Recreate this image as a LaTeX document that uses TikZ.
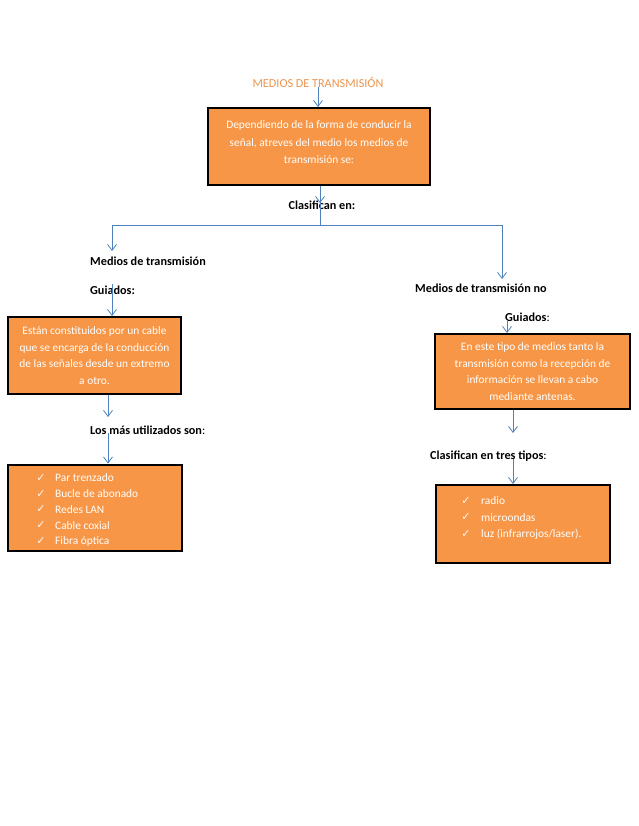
\documentclass[tikz,border=0pt]{standalone}
\usepackage{fontspec}
\setmainfont{Carlito}
\newfontfamily\symfont{DejaVu Sans}
\usetikzlibrary{arrows.meta}
\definecolor{boxorange}{HTML}{F79646}
\definecolor{arrowblue}{HTML}{4F81BD}
\definecolor{titleorange}{HTML}{EB9550}
\begin{document}
\begin{tikzpicture}[x=1pt,y=-1pt,
  obox/.style={draw=black, line width=2pt, fill=boxorange, text=white, inner sep=0pt, align=center,
    font=\fontsize{11.4}{16.8}\selectfont},
  btext/.style={text=white, inner sep=0pt, align=center, font=\fontsize{11.4}{17.5}\selectfont},
  lbl/.style={font=\bfseries\fontsize{12.2}{14}\selectfont, inner sep=0pt, anchor=west},
  item/.style={text=white, font=\fontsize{11.4}{13}\selectfont, inner sep=0pt, anchor=west},
  chk/.style={text=white!92!boxorange, font=\symfont\fontsize{11}{12}\selectfont, inner sep=0pt},
  conn/.style={draw=arrowblue, line width=0.8pt, -{Straight Barb[length=6pt,width=9pt,line width=0.8pt]}},
  plainline/.style={draw=arrowblue, line width=0.8pt}]
\useasboundingbox[fill=white] (0,0) rectangle (638,826);

% title and top box
\node[text=titleorange, font=\fontsize{12.2}{14}\selectfont, inner sep=0pt] (title) at (318,82) {MEDIOS DE TRANSMISIÓN};
\node[obox, minimum width=222pt, minimum height=77pt] (box1) at (319,146.5) {};
\node[btext] (box1t) at (319,142.5) {Dependiendo de la forma de conducir la\\señal, atreves del medio los medios de\\transmisión se:};
\node[lbl, anchor=center] (clas) at (322,205) {Clasifican en:};

% left branch
\node[lbl] (mg1) at (90,261) {Medios de transmisión};
\node[lbl] (mg2) at (90,290) {Guiados:};
\node[obox, minimum width=173pt, minimum height=77pt] (box2) at (94.5,355.5) {Están constituidos por un cable\\que se encarga de la conducción\\de las señales desde un extremo\\a otro.};
\node[lbl] (lmu) at (90,430) {Los más utilizados son\mdseries:};
\node[obox, minimum width=174pt, minimum height=86pt] (box3) at (94.5,507.5) {};
\foreach \t [count=\i] in {Par trenzado,Bucle de abonado,Redes LAN,Cable coxial,Fibra óptica}{
  \node[chk] (c3\i) at (41,462+15.8*\i) {✓};
  \node[item] (t3\i) at (55,462+15.8*\i) {\t};
}

% right branch
\node[lbl] (mn1) at (415,288) {Medios de transmisión no};
\node[lbl] (mn2) at (505,317) {Guiados\mdseries:};
\node[obox, minimum width=195pt, minimum height=75pt] (box4) at (532.5,371.5) {En este tipo de medios tanto la\\transmisión como la recepción de\\información se llevan a cabo\\mediante antenas.};
\node[lbl] (ctt) at (430,456) {Clasifican en tres tipos\mdseries:};
\node[obox, minimum width=174pt, minimum height=78pt] (box5) at (522.5,524) {};
\foreach \t [count=\i] in {radio,microondas,luz (infrarrojos/laser).}{
  \node[chk] (c5\i) at (466,484.5+16.5*\i) {✓};
  \node[item] (t5\i) at (481,484.5+16.5*\i) {\t};
}

% connector coordinates
\coordinate (j) at (320,225);
\coordinate (jl) at (112,225);
\coordinate (jr) at (502,225);
\coordinate (cltip) at (320,203);
\coordinate (ltip) at (112,251);
\coordinate (rtip) at (502,279);
\coordinate (g1s) at (112,284);
\coordinate (b2tip) at (108,417);
\coordinate (lmus) at (108,433);
\coordinate (g2s) at (507,320);
\coordinate (b4tip) at (513,433);
\coordinate (ctts) at (513,459);

% connectors
\draw[conn] (title.south -| title) -- (title |- box1.north);
\draw[plainline] (box1.south -| j) -- (j);
\draw[conn] (box1.south -| cltip) -- (cltip);
\draw[plainline] (jl) -- (jr);
\draw[conn] (jl) -- (ltip);
\draw[conn] (jr) -- (rtip);
\draw[conn] (g1s) -- (g1s |- box2.north);
\draw[conn] (box2.south -| b2tip) -- (b2tip);
\draw[conn] (lmus) -- (lmus |- box3.north);
\draw[conn] (g2s) -- (g2s |- box4.north);
\draw[conn] (box4.south -| b4tip) -- (b4tip);
\draw[conn] (ctts) -- (ctts |- box5.north);
\end{tikzpicture}
\end{document}
